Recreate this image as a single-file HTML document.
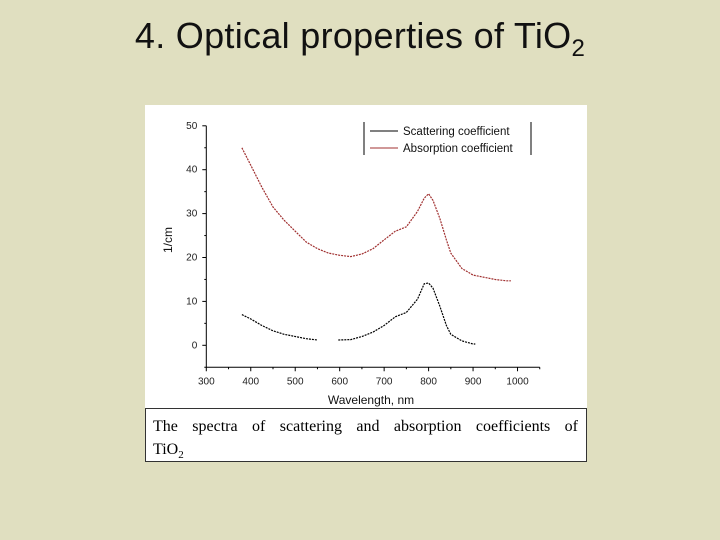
<!DOCTYPE html>
<html><head><meta charset="utf-8"><style>
body{margin:0;width:720px;height:540px;background:#e0dfc0;position:relative;overflow:hidden;font-family:"Liberation Sans",sans-serif}
#title{position:absolute;left:0;width:720px;top:15px;text-align:center;font-size:36px;color:#111;font-family:"Liberation Sans",sans-serif;letter-spacing:0.3px}
#panel{position:absolute;left:145px;top:105px;width:442px;height:357px;background:#fff}
#caption{position:absolute;left:145px;top:408px;width:442px;height:54px;box-sizing:border-box;border:1px solid #333;padding:6px 8px 2px 7px;font-family:"Liberation Serif",serif;font-size:16px;line-height:23px;color:#000;background:#fff}
#caption .l1{display:block;text-align:justify;text-align-last:justify}
svg{position:absolute;left:0;top:0}
</style></head><body>
<div id="title">4. Optical properties of TiO<sub style="font-size:24px">2</sub></div>
<div id="panel"></div>
<svg id="chart" width="720" height="540"></svg>
<div id="caption"><span class="l1">The spectra of scattering and absorption coefficients of</span>TiO<sub style="font-size:11px">2</sub></div>
<script>
const xTicks=[300,400,500,600,700,800,900,1000];
const yTicks=[0,10,20,30,40,50];
const absX=[380,400,425,450,475,500,525,550,575,600,625,650,675,700,725,750,775,790,800,810,825,840,850,875,900,925,950,975,985];
const absY=[45,41,36,31.5,28.5,26,23.5,22,21,20.5,20.2,20.8,22,24,26,27,30.5,33.5,34.5,33,29,24,21,17.5,16,15.5,15,14.7,14.7];
const scaX=[380,400,425,450,475,500,525,550,575,597,625,650,675,700,725,750,775,790,800,810,825,840,850,875,900,905];
const scaY=[7,6,4.5,3.3,2.5,2,1.5,1.2,null,1.2,1.3,2,3,4.5,6.5,7.5,10.5,14,14.2,13,9,4.5,2.5,1,0.3,0.3];
const X=v=>206.3+(v-300)*0.4446;
const Y=v=>345.3-v*4.39;
const svg=document.getElementById('chart');
const NS='http://www.w3.org/2000/svg';
function mk(t,a){const e=document.createElementNS(NS,t);for(const k in a)e.setAttribute(k,a[k]);svg.appendChild(e);return e;}
let ax=mk('path',{d:`M${X(300)} ${Y(50)}V${Y(-5)}H${X(1050)}`,stroke:'#000','stroke-width':1,fill:'none'});


xTicks.forEach(v=>{
  mk('line',{x1:X(v),x2:X(v),y1:Y(-5),y2:Y(-5)+4,stroke:'#000'});
  mk('line',{x1:X(v+50),x2:X(v+50),y1:Y(-5),y2:Y(-5)+2,stroke:'#000'});
  const t=mk('text',{x:X(v),y:Y(-5)+17,'font-size':10,'text-anchor':'middle',fill:'#222'});t.textContent=v;
  
  
});
yTicks.forEach(v=>{
  mk('line',{x1:X(300),x2:X(300)-4,y1:Y(v),y2:Y(v),stroke:'#000'});
  mk('line',{x1:X(300),x2:X(300)-2,y1:Y(v-5),y2:Y(v-5),stroke:'#000'});
  const t=mk('text',{x:X(300)-9,y:Y(v)+3,'font-size':10,'text-anchor':'end',fill:'#222'});t.textContent=v;
  
  
});
let xt=mk('text',{x:371,y:404,'font-size':12,'text-anchor':'middle',fill:'#111'});xt.textContent='Wavelength, nm';


let yt=mk('text',{x:172,y:240,'font-size':12,'text-anchor':'middle',fill:'#111',transform:'rotate(-90 172 240)'});yt.textContent='1/cm';


function line(xs,ys,c,name){
  let d='',pen=false;
  xs.forEach((x,i)=>{if(ys[i]==null){pen=false;return;}d+=(pen?'L':'M')+X(x).toFixed(1)+' '+Y(ys[i]).toFixed(1);pen=true;});
  const p=mk('path',{d,stroke:c,'stroke-width':1.2,fill:'none','stroke-dasharray':'2 1'});
  
  
}
line(absX,absY,'#a03030','absorption-line');
line(scaX,scaY,'#000','scattering-line');
mk('line',{x1:364,x2:364,y1:122,y2:155,stroke:'#000'});
mk('line',{x1:531,x2:531,y1:122,y2:155,stroke:'#000'});
mk('line',{x1:370,x2:398,y1:131,y2:131,stroke:'#000'});
mk('line',{x1:370,x2:398,y1:148,y2:148,stroke:'#a03030'});
let l1=mk('text',{x:403,y:135,'font-size':11.5,fill:'#111'});l1.textContent='Scattering coefficient';


let l2=mk('text',{x:403,y:152,'font-size':11.5,fill:'#111'});l2.textContent='Absorption coefficient';


</script>
</body></html>
